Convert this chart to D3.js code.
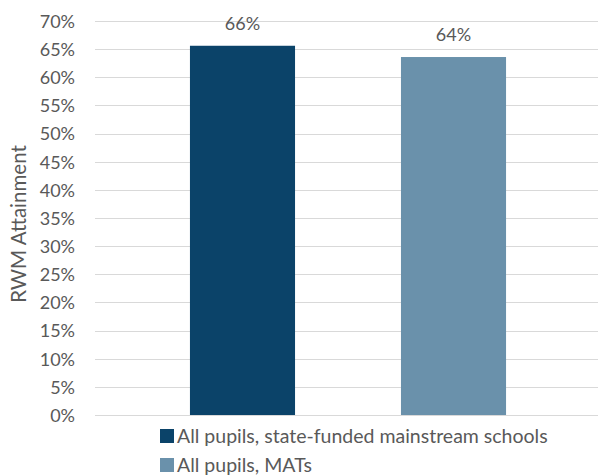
<!DOCTYPE html>
<html>
<head>
<meta charset="utf-8">
<script src="https://cdn.jsdelivr.net/npm/d3@7"></script>
<style>
  html, body { margin: 0; padding: 0; background: #fff; }
  svg { display: block; }
  text { font-family: Lato, "Open Sans", sans-serif; fill: #595959; }
</style>
</head>
<body>
<svg id="chart" width="598" height="475"></svg>
<script>
const series = ["All pupils, state-funded mainstream schools", "All pupils, MATs"];
const values = [0.656, 0.636];
const colors = ["#0B4369", "#6A91AB"];
const yTicks = [0, 0.05, 0.10, 0.15, 0.20, 0.25, 0.30, 0.35, 0.40, 0.45, 0.50, 0.55, 0.60, 0.65, 0.70];
const yTitle = "RWM Attainment";

const svg = d3.select("#chart");
const fs = 18;

const y = d3.scaleLinear().domain([0, 0.70]).range([415, 21]);
const x = d3.scaleBand().domain(series).range([95, 601]).paddingInner(0.502).paddingOuter(0.45);

// gridlines
svg.append("g").selectAll("line").data(yTicks).join("line")
  .attr("x1", 95).attr("x2", 598)
  .attr("y1", d => Math.round(y(d)) + 0.5).attr("y2", d => Math.round(y(d)) + 0.5)
  .attr("stroke", "#D9D9D9").attr("stroke-width", 1);

// y axis labels
const yAxis = d3.axisLeft(y).tickValues(yTicks).tickFormat(d3.format(".0%")).tickSize(0).tickPadding(0);
const ga = svg.append("g").attr("transform", "translate(75,0)").call(yAxis);
ga.select(".domain").remove();
ga.selectAll("text").attr("font-size", fs).attr("font-family", "Lato, sans-serif").attr("fill", "#595959").attr("dy", "0.35em");

// bars
svg.append("g").selectAll("rect").data(values).join("rect")
  .attr("x", (d, i) => x(series[i]))
  .attr("width", x.bandwidth())
  .attr("y", d => y(d))
  .attr("height", d => y(0) - y(d))
  .attr("fill", (d, i) => colors[i]);

// data labels
svg.append("g").selectAll("text").data(values).join("text")
  .attr("x", (d, i) => x(series[i]) + x.bandwidth() / 2)
  .attr("y", d => y(d) - 16)
  .attr("text-anchor", "middle")
  .attr("font-size", fs)
  .text(d3.format(".0%"));

// y title
svg.append("text")
  .attr("transform", "translate(26,224) rotate(-90)")
  .attr("text-anchor", "middle")
  .attr("font-size", 20.5)
  .text(yTitle);

// legend
const lg = svg.append("g").selectAll("g").data(series).join("g")
  .attr("transform", (d, i) => `translate(160,${429 + i * 29})`);
lg.append("rect").attr("width", 14).attr("height", 14).attr("fill", (d, i) => colors[i]);
lg.append("text").attr("x", 17).attr("y", 13.5).attr("font-size", 19.5).text(d => d);
</script>
</body>
</html>
